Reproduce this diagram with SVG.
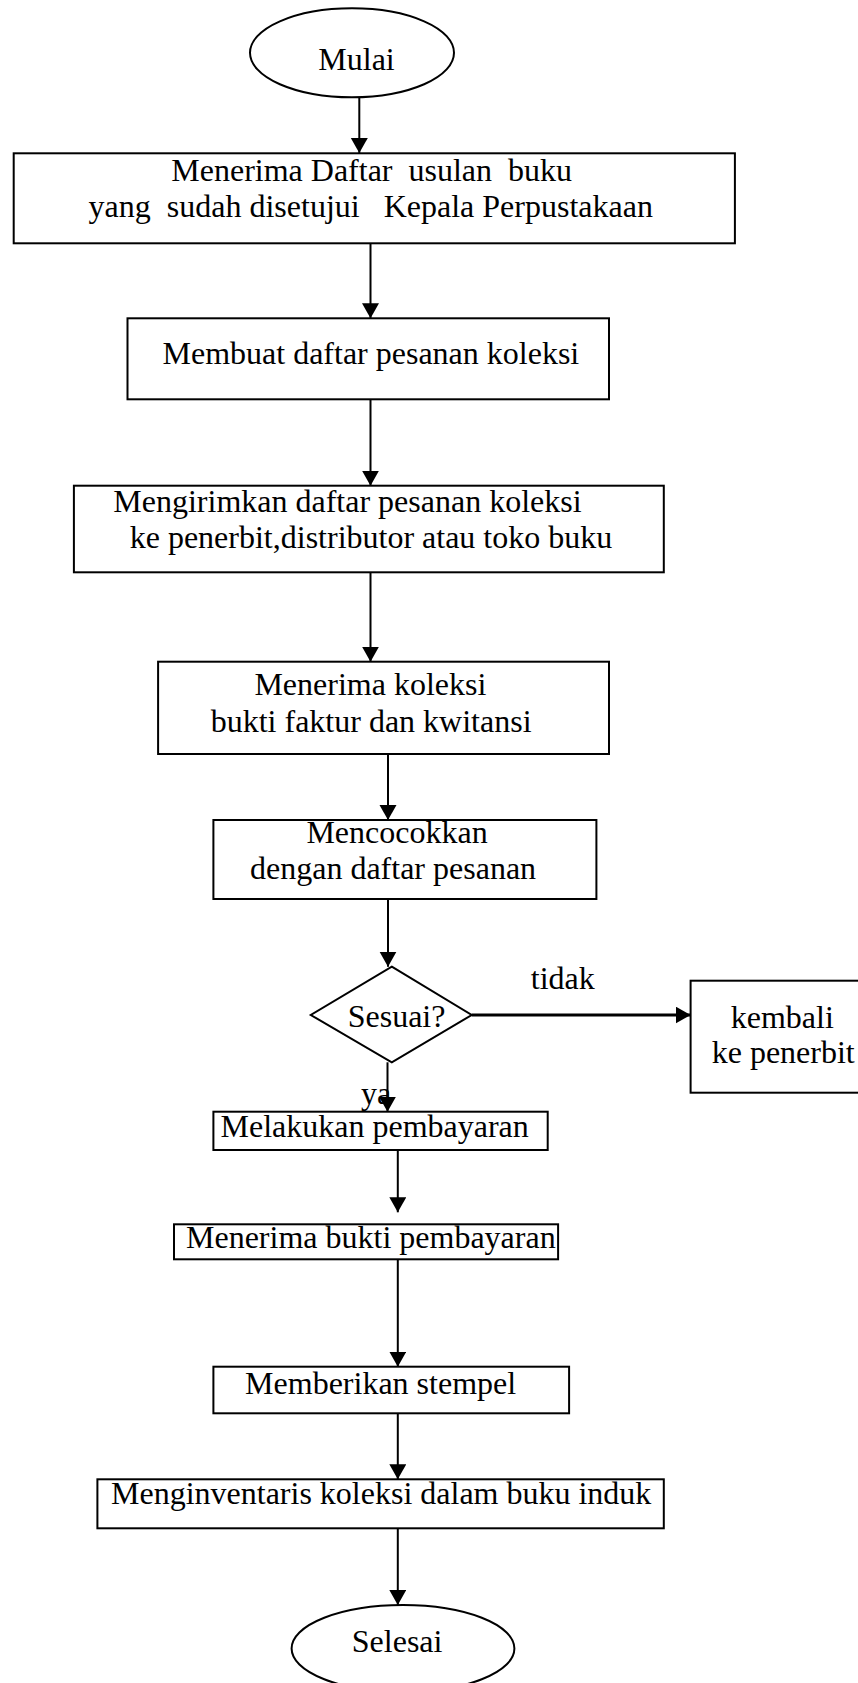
<svg xmlns="http://www.w3.org/2000/svg" width="858" height="1683" viewBox="0 0 858 1683">
<style>
  .shape { fill: #ffffff; stroke: #000000; stroke-width: 2; }
  .lbl { font-family: "Liberation Serif", "Times New Roman", serif; font-size: 32px; fill: #000000; }
  .conn { fill: none; stroke: #000000; stroke-width: 2; }
  .thick { stroke-width: 3; }
</style>
<defs>
  <marker id="arrow" markerUnits="userSpaceOnUse" markerWidth="16" markerHeight="18" refX="15" refY="8.5" orient="auto">
    <path d="M0,0 L15,8.5 L0,17 Z" fill="#000000"/>
  </marker>
</defs>
<rect x="0" y="0" width="858" height="1683" fill="#ffffff"/>

<g id="connectors">
  <line class="conn" x1="359.3" y1="97.3" x2="359.3" y2="153" marker-end="url(#arrow)"/>
  <line class="conn" x1="370.5" y1="243.3" x2="370.5" y2="318.3" marker-end="url(#arrow)"/>
  <line class="conn" x1="370.5" y1="399.3" x2="370.5" y2="485.7" marker-end="url(#arrow)"/>
  <line class="conn" x1="370.5" y1="572.3" x2="370.5" y2="661.7" marker-end="url(#arrow)"/>
  <line class="conn" x1="388" y1="754" x2="388" y2="820" marker-end="url(#arrow)"/>
  <line class="conn" x1="388" y1="899" x2="388" y2="966.7" marker-end="url(#arrow)"/>
  <line class="conn thick" x1="471.7" y1="1015" x2="690.6" y2="1015" marker-end="url(#arrow)"/>
  <line class="conn" x1="387.5" y1="1062.3" x2="387.5" y2="1111.7" marker-end="url(#arrow)"/>
  <line class="conn" x1="397.8" y1="1150" x2="397.8" y2="1212.3" marker-end="url(#arrow)"/>
  <line class="conn" x1="397.8" y1="1259.3" x2="397.8" y2="1366.7" marker-end="url(#arrow)"/>
  <line class="conn" x1="397.8" y1="1413.3" x2="397.8" y2="1479.3" marker-end="url(#arrow)"/>
  <line class="conn" x1="397.8" y1="1528.3" x2="397.8" y2="1605" marker-end="url(#arrow)"/>
</g>

<g id="node-mulai">
  <ellipse class="shape" cx="352" cy="52.8" rx="102" ry="44.5"/>
  <text class="lbl" x="318.3" y="70">Mulai</text>
</g>

<g id="node-menerima-daftar">
  <rect class="shape" x="13.7" y="153.3" width="721.2" height="90"/>
  <text class="lbl" x="171.3" y="181" xml:space="preserve">Menerima Daftar  usulan  buku</text>
  <text class="lbl" x="88.6" y="216.7" xml:space="preserve">yang  sudah disetujui   Kepala Perpustakaan</text>
</g>

<g id="node-membuat-daftar">
  <rect class="shape" x="127.5" y="318.3" width="481.5" height="81"/>
  <text class="lbl" x="162.5" y="364">Membuat daftar pesanan koleksi</text>
</g>

<g id="node-mengirimkan">
  <rect class="shape" x="73.9" y="485.7" width="589.9" height="86.6"/>
  <text class="lbl" x="113.3" y="511.7">Mengirimkan daftar pesanan koleksi</text>
  <text class="lbl" x="129.7" y="548.3">ke penerbit,distributor atau toko buku</text>
</g>

<g id="node-menerima-koleksi">
  <rect class="shape" x="158.1" y="661.7" width="450.9" height="92.3"/>
  <text class="lbl" x="254.4" y="695">Menerima koleksi</text>
  <text class="lbl" x="210.7" y="732.3">bukti faktur dan kwitansi</text>
</g>

<g id="node-mencocokkan">
  <rect class="shape" x="213.4" y="820" width="383" height="79"/>
  <text class="lbl" x="306.4" y="842.7">Mencocokkan</text>
  <text class="lbl" x="250" y="879.3">dengan daftar pesanan</text>
</g>

<g id="node-sesuai">
  <polygon class="shape" points="391.8,966.7 471.7,1015 391.8,1062.3 310.8,1015"/>
  <text class="lbl" x="347.7" y="1027">Sesuai?</text>
</g>

<g id="label-tidak">
  <text class="lbl" x="530.8" y="989.3">tidak</text>
</g>

<g id="node-kembali">
  <rect class="shape" x="690.6" y="980.7" width="190" height="112"/>
  <text class="lbl" x="730.7" y="1027.7">kembali</text>
  <text class="lbl" x="711.7" y="1063.3">ke penerbit</text>
</g>

<g id="label-ya">
  <text class="lbl" x="361" y="1104">ya</text>
</g>

<g id="node-melakukan">
  <rect class="shape" x="213.4" y="1111.7" width="334.3" height="38.3"/>
  <text class="lbl" x="220.5" y="1137.3">Melakukan pembayaran</text>
</g>

<g id="node-menerima-bukti">
  <rect class="shape" x="174" y="1224.3" width="384.1" height="35"/>
  <text class="lbl" x="186" y="1247.7">Menerima bukti pembayaran</text>
</g>

<g id="node-memberikan">
  <rect class="shape" x="213.4" y="1366.7" width="355.7" height="46.6"/>
  <text class="lbl" x="245.1" y="1394.3">Memberikan stempel</text>
</g>

<g id="node-menginventaris">
  <rect class="shape" x="97.4" y="1479.3" width="566.4" height="49"/>
  <text class="lbl" x="111" y="1504">Menginventaris koleksi dalam buku induk</text>
</g>

<g id="node-selesai">
  <ellipse class="shape" cx="403" cy="1648.5" rx="111.4" ry="43.5"/>
  <text class="lbl" x="351.8" y="1651.7">Selesai</text>
</g>
</svg>
